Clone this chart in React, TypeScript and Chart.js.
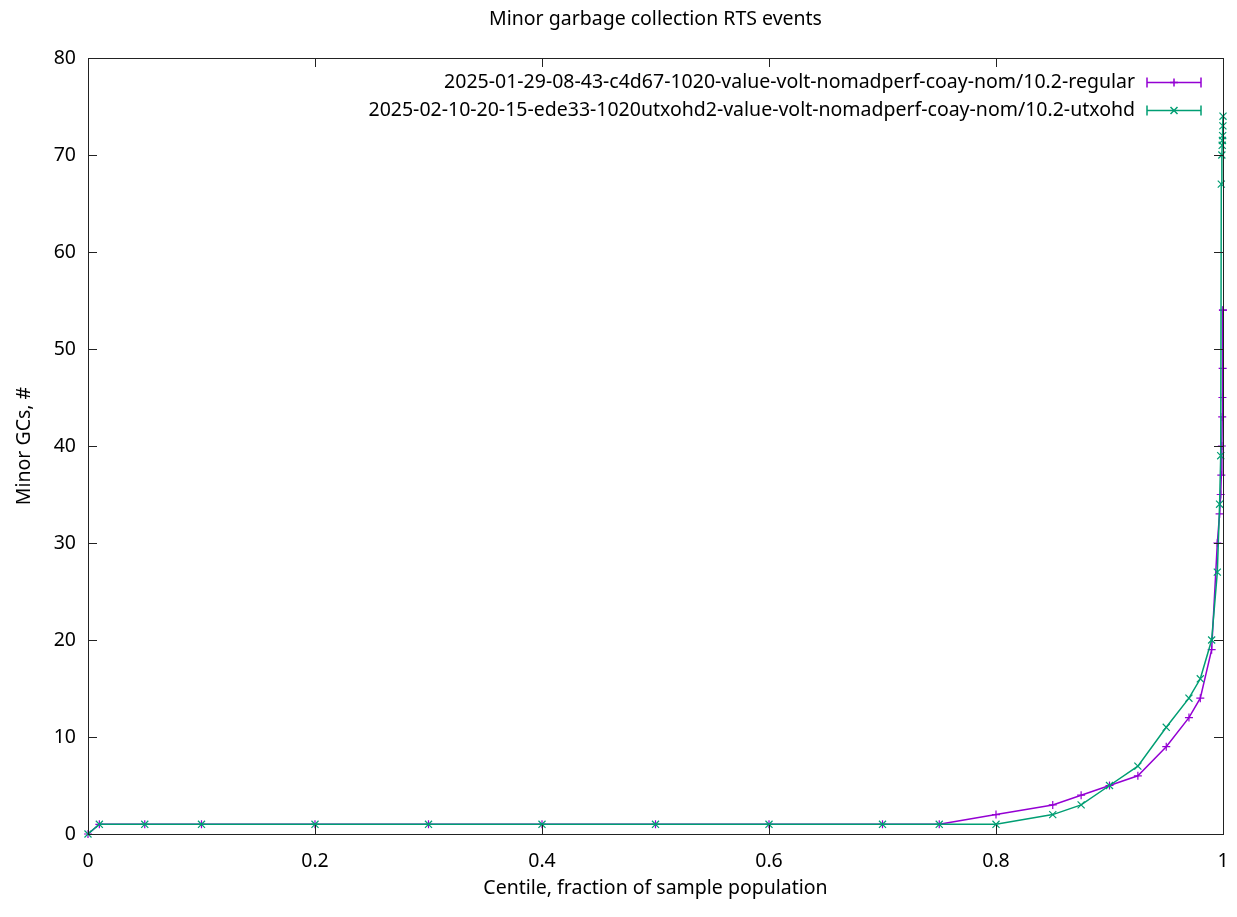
import React, { useEffect, useRef } from "react";
import { Chart, registerables } from "chart.js";

Chart.register(...registerables);

const chartTitle = "Minor garbage collection RTS events";
const xAxisTitle = "Centile, fraction of sample population";
const yAxisTitle = "Minor GCs, #";
const seriesNames = [
  "2025-01-29-08-43-c4d67-1020-value-volt-nomadperf-coay-nom/10.2-regular",
  "2025-02-10-20-15-ede33-1020utxohd2-value-volt-nomadperf-coay-nom/10.2-utxohd",
];
const centiles = [
  0, 0.01, 0.05, 0.1, 0.2, 0.3, 0.4, 0.5, 0.6, 0.7, 0.75, 0.8, 0.85, 0.875, 0.9,
  0.925, 0.95, 0.97, 0.98, 0.99, 0.995, 0.997, 0.998, 0.9985, 0.999, 0.9993,
  0.9995, 0.9997, 0.9999, 1.0,
];
const regularValues = [
  0, 1, 1, 1, 1, 1, 1, 1, 1, 1, 1, 2, 3, 4, 5, 6, 9, 12, 14, 19, 30, 33, 35, 37,
  40, 43, 45, 48, 54, 54,
];
const utxohdValues = [
  0, 1, 1, 1, 1, 1, 1, 1, 1, 1, 1, 1, 2, 3, 5, 7, 11, 14, 16, 20, 27, 34, 39, 67,
  70, 71, 71.5, 72, 73, 74,
];
const xTicks = [0, 0.2, 0.4, 0.6, 0.8, 1];
const yTicks = [0, 10, 20, 30, 40, 50, 60, 70, 80];

const colors = ["#9400d3", "#009e73"];
const markers = ["cross", "crossRot"];
const FONT = '"Noto Sans", sans-serif';
const FS = 19.5;

const gnuplotPlugin = {
  id: "gnuplotDecor",
  afterDraw(chart: any) {
    const ctx = chart.ctx;
    const a = chart.chartArea;
    const xs = chart.scales.x;
    const ys = chart.scales.y;
    ctx.save();
    ctx.strokeStyle = "#222";
    ctx.lineWidth = 1;
    ctx.strokeRect(Math.round(a.left) + 0.5, Math.round(a.top) + 0.5, Math.round(a.right - a.left), Math.round(a.bottom - a.top));
    const tl = 9;
    ctx.beginPath();
    xTicks.forEach((v) => {
      const px = Math.round(xs.getPixelForValue(v)) + 0.5;
      ctx.moveTo(px, a.bottom);
      ctx.lineTo(px, a.bottom - tl);
      ctx.moveTo(px, a.top);
      ctx.lineTo(px, a.top + tl);
    });
    yTicks.forEach((v) => {
      const py = Math.round(ys.getPixelForValue(v)) + 0.5;
      ctx.moveTo(a.left, py);
      ctx.lineTo(a.left + tl, py);
      ctx.moveTo(a.right, py);
      ctx.lineTo(a.right - tl, py);
    });
    ctx.stroke();

    ctx.fillStyle = "#000";
    ctx.font = `${FS}px ${FONT}`;
    ctx.textBaseline = "middle";
    ctx.textAlign = "center";
    ctx.fillText(chartTitle, (a.left + a.right) / 2, 19);
    ctx.fillText(xAxisTitle, (a.left + a.right) / 2, 888);
    ctx.save();
    ctx.translate(24, (a.top + a.bottom) / 2);
    ctx.rotate(-Math.PI / 2);
    ctx.fillText(yAxisTitle, 0, 0);
    ctx.restore();

    const textRight = 1135;
    const lineL = 1147;
    const lineR = 1201;
    const rows = [82.5, 110.5];
    seriesNames.forEach((name, i) => {
      const y = rows[i];
      ctx.fillStyle = "#000";
      ctx.textAlign = "right";
      ctx.fillText(name, textRight, y);
      ctx.strokeStyle = colors[i];
      ctx.lineWidth = 1.5;
      ctx.beginPath();
      ctx.moveTo(lineL, y);
      ctx.lineTo(lineR, y);
      ctx.moveTo(lineL, y - 5);
      ctx.lineTo(lineL, y + 5);
      ctx.moveTo(lineR, y - 5);
      ctx.lineTo(lineR, y + 5);
      ctx.stroke();
      const mx = (lineL + lineR) / 2;
      ctx.beginPath();
      if (i === 0) {
        ctx.moveTo(mx - 4, y);
        ctx.lineTo(mx + 4, y);
        ctx.moveTo(mx, y - 4);
        ctx.lineTo(mx, y + 4);
      } else {
        ctx.moveTo(mx - 3.5, y - 3.5);
        ctx.lineTo(mx + 3.5, y + 3.5);
        ctx.moveTo(mx - 3.5, y + 3.5);
        ctx.lineTo(mx + 3.5, y - 3.5);
      }
      ctx.stroke();
    });
    ctx.restore();
  },
};

export default function App() {
  const ref = useRef<HTMLCanvasElement | null>(null);
  useEffect(() => {
    if (!ref.current) return;
    const mk = (vals: number[]) => centiles.map((c, i) => ({ x: c, y: vals[i] }));
    const chart = new Chart(ref.current, {
      type: "line",
      data: {
        datasets: [regularValues, utxohdValues].map((vals, i) => ({
          label: seriesNames[i],
          data: mk(vals),
          order: i === 0 ? 1 : 0,
          borderColor: colors[i],
          backgroundColor: colors[i],
          borderWidth: 1.5,
          pointStyle: markers[i] as any,
          pointRadius: i === 0 ? 4 : 5,
          pointBorderWidth: 1.2,
          pointBorderColor: colors[i],
          tension: 0,
          fill: false,
          clip: false as any,
        })),
      },
      options: {
        animation: false,
        responsive: false,
        devicePixelRatio: 1,
        layout: { padding: { top: 58, right: 14, left: 0, bottom: 0 } },
        plugins: {
          legend: { display: false },
          title: { display: false },
          tooltip: { enabled: false },
        },
        scales: {
          x: {
            type: "linear",
            min: 0,
            max: 1,
            afterFit: (s: any) => {
              s.height = 83;
              s.paddingLeft = 0;
              s.paddingRight = 0;
            },
            afterBuildTicks: (s: any) => { s.ticks = xTicks.map((v) => ({ value: v })); },
            grid: { display: false, drawTicks: false },
            border: { display: false },
            ticks: {
              padding: 16,
              color: "#000",
              font: { family: FONT, size: FS },
              maxRotation: 0,
              callback: (v: any) => String(v),
            },
          },
          y: {
            type: "linear",
            min: 0,
            max: 80,
            afterFit: (s: any) => {
              s.width = 88;
              s.paddingTop = 0;
              s.paddingBottom = 0;
            },
            afterBuildTicks: (s: any) => { s.ticks = yTicks.map((v) => ({ value: v })); },
            grid: { display: false, drawTicks: false },
            border: { display: false },
            ticks: {
              padding: 12,
              color: "#000",
              font: { family: FONT, size: FS },
              callback: (v: any) => String(v),
            },
          },
        },
      },
      plugins: [gnuplotPlugin],
    });
    return () => chart.destroy();
  }, []);
  return (
    <div style={{ position: "absolute", left: 0, top: 0, width: 1237, height: 917, background: "#fff" }}>
      <canvas ref={ref} width={1237} height={917} style={{ display: "block", width: 1237, height: 917 }} />
    </div>
  );
}
